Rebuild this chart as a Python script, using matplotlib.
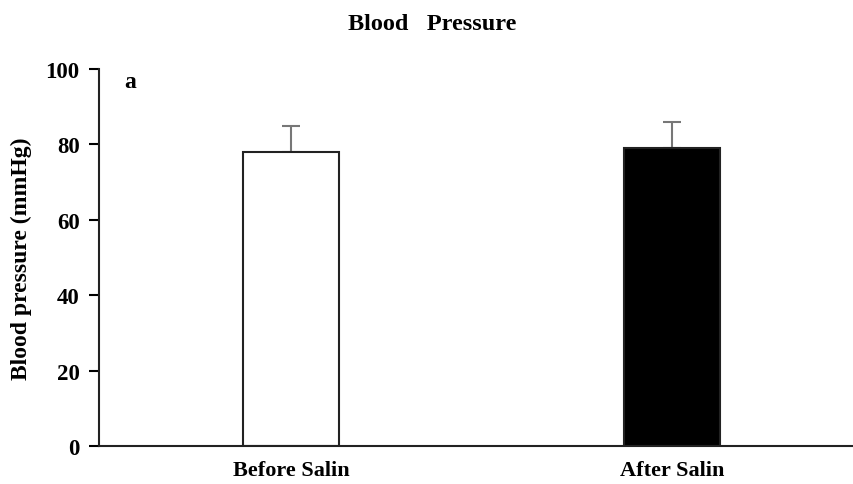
import matplotlib
matplotlib.use("Agg")
import matplotlib.pyplot as plt

# Data
groups = ["Before Salin", "After Salin"]
means = [78, 79]
errors = [7, 7]
fills = ["white", "black"]

plt.rcParams["font.family"] = "Liberation Serif"
plt.rcParams["font.weight"] = "bold"
plt.rcParams["axes.labelweight"] = "bold"

fig = plt.figure(figsize=(8.54, 4.85), dpi=100)
ax = fig.add_axes([99 / 854, 38 / 485, 755 / 854, 377 / 485])

x = range(len(groups))
ax.bar(x, means, width=0.252, color=fills, edgecolor="#222222", linewidth=1.5,
       zorder=2)
ax.errorbar(x, means, yerr=[[0, 0], errors], fmt="none", ecolor="#777777",
            elinewidth=1.5, capsize=6.5, capthick=1.5, zorder=1)

ax.set_xlim(-0.504, 1.478)
ax.set_ylim(0, 100)
ax.set_yticks(range(0, 101, 20))
ax.set_xticks(list(x))
ax.set_xticklabels(groups, fontsize=16)
ax.tick_params(axis="y", direction="out", length=7, width=1.5, labelsize=16.5,
               pad=7)
ax.tick_params(axis="x", length=0, pad=10)

for side in ["top", "right"]:
    ax.spines[side].set_visible(False)
for side in ["left", "bottom"]:
    ax.spines[side].set_linewidth(1.5)
    ax.spines[side].set_color("#222222")

ax.set_ylabel("Blood pressure (mmHg)", fontsize=17, labelpad=10)
ax.text(0.033, 0.995, "a", transform=ax.transAxes, fontsize=17,
        fontweight="bold", va="top")
fig.text(432 / 854, 1 - 24 / 485, "Blood   Pressure", ha="center",
         va="center", fontsize=17.5, fontweight="bold")

fig.savefig("out.png", dpi=100)
